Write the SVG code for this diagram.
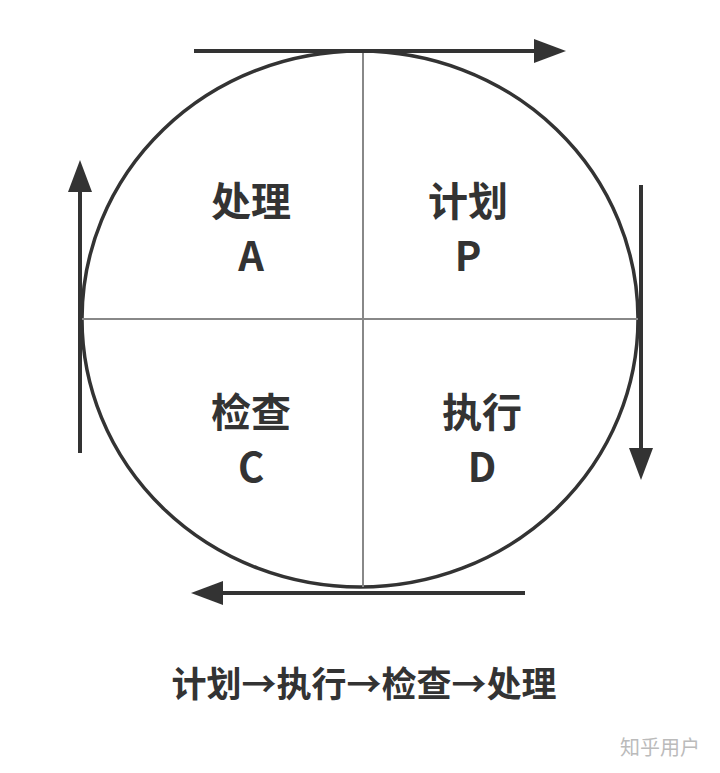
<svg xmlns="http://www.w3.org/2000/svg" width="720" height="773" viewBox="0 0 720 773">
<style>
.t{font-family:"Noto Sans CJK SC","Noto Sans",sans-serif;font-weight:bold;fill:#333;text-anchor:middle}
.a{stroke:#333;stroke-width:4;fill:none}
</style>
<defs>
<marker id="h" markerWidth="8" markerHeight="6" refX="1" refY="3" orient="auto" markerUnits="strokeWidth"><path d="M0,0 L8,3 L0,6Z" fill="#333"/></marker>
</defs>
<rect width="720" height="773" fill="#fff"/>
<g id="circle">
<ellipse cx="360" cy="319" rx="278" ry="268" fill="none" stroke="#333" stroke-width="3.5"/>
<line x1="363" y1="51" x2="363" y2="587" stroke="#888" stroke-width="2"/>
<line x1="82" y1="319" x2="638" y2="319" stroke="#888" stroke-width="2"/>
</g>
<g id="connectors">
<line class="a" x1="194" y1="51" x2="538" y2="51" marker-end="url(#h)"/>
<line class="a" x1="641" y1="185" x2="641" y2="452" marker-end="url(#h)"/>
<line class="a" x1="525" y1="593" x2="219" y2="593" marker-end="url(#h)"/>
<line class="a" x1="80" y1="453" x2="80" y2="188" marker-end="url(#h)"/>
</g>
<g id="A"><text class="t" x="251" y="216" font-size="40">处理</text><text class="t" x="251" y="271" font-size="40">A</text></g>
<g id="P"><text class="t" x="468" y="216" font-size="40">计划</text><text class="t" x="468" y="271" font-size="40">P</text></g>
<g id="C"><text class="t" x="251" y="427" font-size="40">检查</text><text class="t" x="251" y="482" font-size="40">C</text></g>
<g id="D"><text class="t" x="482" y="427" font-size="40">执行</text><text class="t" x="482" y="482" font-size="40">D</text></g>
<text class="t" x="364" y="697" font-size="35">计划→执行→检查→处理</text>
<text x="660" y="755" font-family="Noto Sans CJK SC,sans-serif" font-size="20" fill="#bbb" text-anchor="middle">知乎用户</text>
</svg>
